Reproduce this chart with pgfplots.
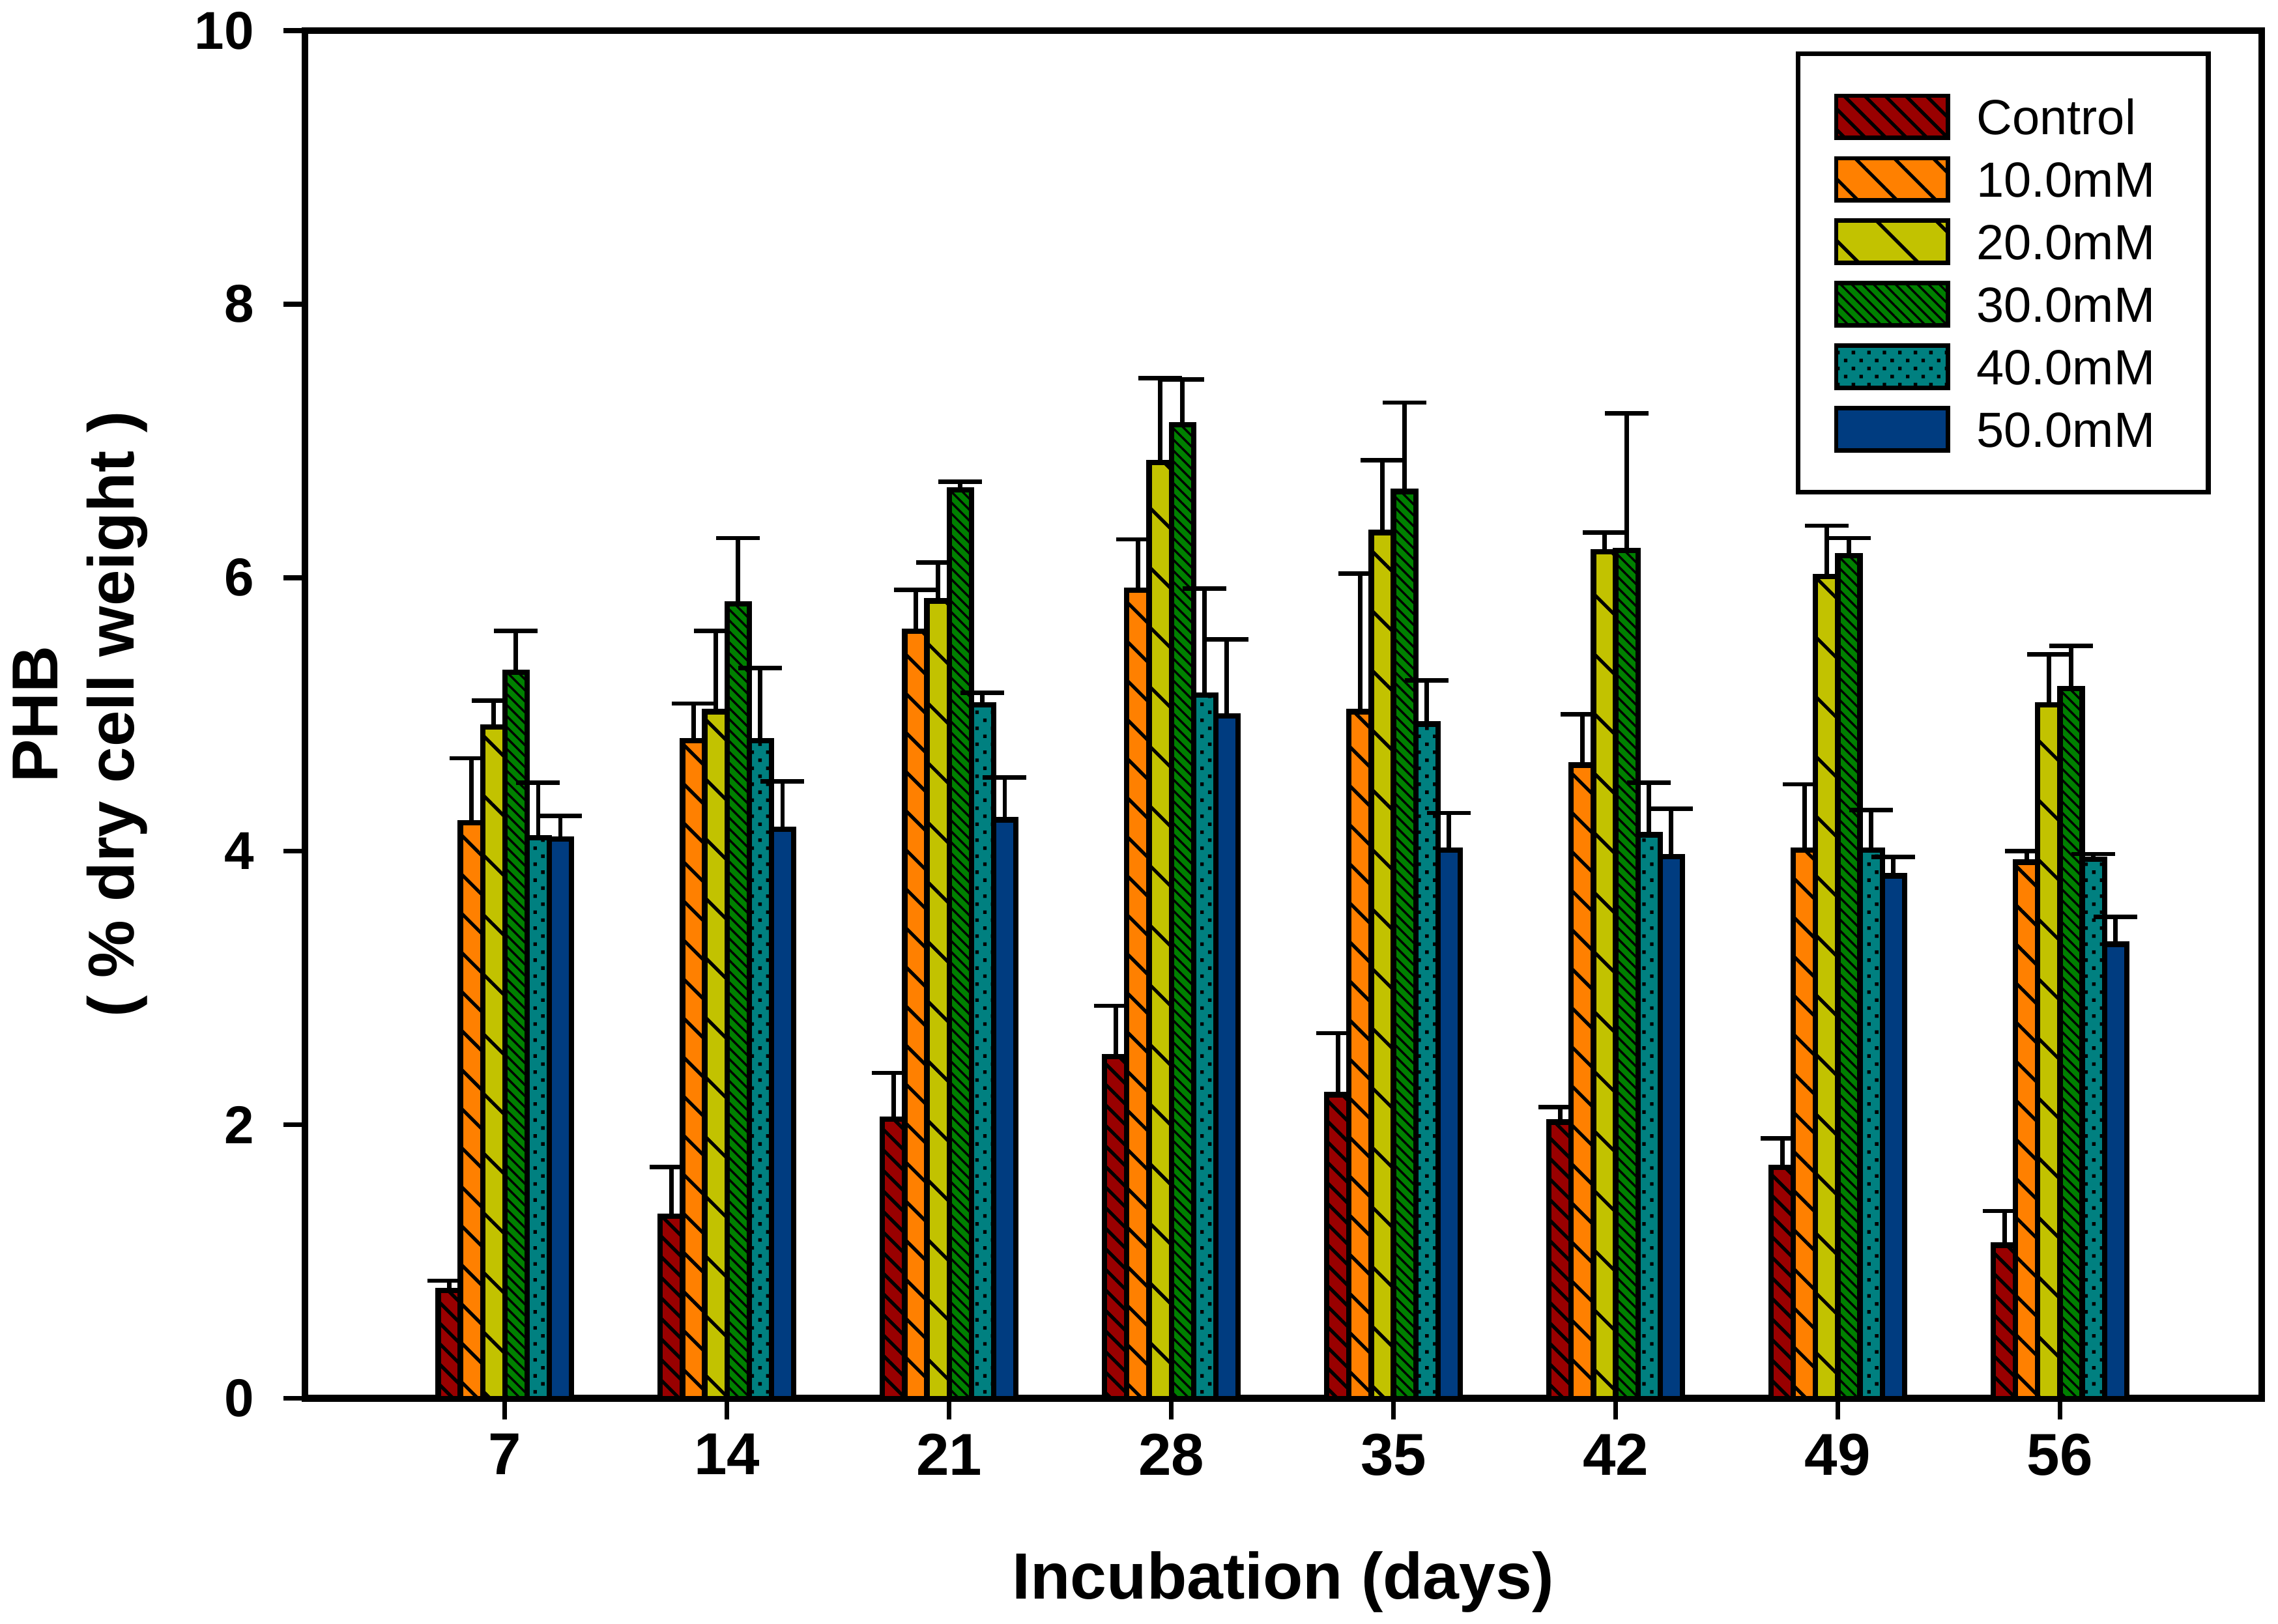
\documentclass[border=0pt]{standalone}
\usepackage{fontspec}
\setmainfont{Liberation Sans}
\usepackage{pgfplots}
\usepackage{pgfplotstable}
\pgfplotsset{compat=1.18}
\usetikzlibrary{patterns,patterns.meta,calc}

\definecolor{cctrl}{HTML}{990000}
\definecolor{cten}{HTML}{FF8000}
\definecolor{ctwenty}{HTML}{C2C200}
\definecolor{cthirty}{HTML}{008000}
\definecolor{cforty}{HTML}{008080}
\definecolor{cfifty}{HTML}{003C80}

% staggered square dots (40 mM)
\pgfdeclarepatternformonly{stagdots}{\pgfqpoint{-0.5pt}{-0.5pt}}{\pgfqpoint{2.1pt}{2.1pt}}{\pgfqpoint{3.2pt}{3.3pt}}{%
  \pgfpathrectangle{\pgfqpoint{-0.36pt}{-0.36pt}}{\pgfqpoint{0.72pt}{0.72pt}}%
  \pgfpathrectangle{\pgfqpoint{1.24pt}{1.29pt}}{\pgfqpoint{0.72pt}{0.72pt}}%
  \pgfusepath{fill}}

% x = day, y = PHB, e = upper error
\pgfplotstableread{
x y e
7 0.79 0.07
14 1.33 0.36
21 2.04 0.34
28 2.50 0.37
35 2.22 0.45
42 2.02 0.11
49 1.69 0.21
56 1.12 0.25
}\tctrl
\pgfplotstableread{
x y e
7 4.21 0.47
14 4.81 0.27
21 5.61 0.30
28 5.91 0.37
35 5.02 1.01
42 4.63 0.37
49 4.01 0.48
56 3.92 0.08
}\tten
\pgfplotstableread{
x y e
7 4.91 0.19
14 5.02 0.59
21 5.83 0.28
28 6.84 0.62
35 6.33 0.53
42 6.19 0.14
49 6.01 0.37
56 5.07 0.37
}\ttwenty
\pgfplotstableread{
x y e
7 5.31 0.30
14 5.81 0.48
21 6.64 0.06
28 7.12 0.33
35 6.63 0.65
42 6.20 1.00
49 6.16 0.13
56 5.19 0.31
}\tthirty
\pgfplotstableread{
x y e
7 4.10 0.40
14 4.81 0.53
21 5.07 0.09
28 5.14 0.78
35 4.93 0.32
42 4.12 0.38
49 4.01 0.29
56 3.94 0.04
}\tforty
\pgfplotstableread{
x y e
7 4.09 0.17
14 4.16 0.35
21 4.23 0.31
28 4.99 0.56
35 4.01 0.27
42 3.96 0.35
49 3.82 0.14
56 3.32 0.20
}\tfifty

\pgfplotsset{
  phbbar/.style={ybar, bar width=0.7, bar shift=0, draw=black, line width=1.1pt,
    legend image code/.code={\draw[##1, line width=0.9pt] (0pt,-4.35pt) rectangle (23.1pt,4.35pt);},
    error bars/y dir=plus, error bars/y explicit,
    error bars/error bar style={line width=0.9pt, black},
    error bars/error mark options={rotate=90, mark size=4.5pt, line width=0.9pt, black}},
}

\begin{document}
\begin{tikzpicture}
\begin{axis}[
    name=ax,
    scale only axis,
    width=403.7pt, height=282.3pt,
    xmin=0.7, xmax=62.35, ymin=0, ymax=10,
    xtick={7,14,21,28,35,42,49,56},
    ytick={0,2,4,6,8,10},
    minor tick num=0,
    tick align=outside,
    major tick length=4.4pt,
    xtick pos=bottom, ytick pos=left,
    every tick/.style={black, line width=1pt},
    axis line style={line width=1.4pt},
    /pgf/number format/assume math mode=true,
    xticklabel style={font=\fontsize{12.2}{12.2}\selectfont\bfseries, inner sep=0pt, yshift=-2.7pt},
    yticklabel style={font=\fontsize{11}{11}\selectfont\bfseries, inner sep=0pt, xshift=-5.9pt},
    xlabel={Incubation (days)},
    xlabel style={font=\fontsize{13.5}{13.5}\selectfont\bfseries, inner sep=0pt,
        at={(axis description cs:0.5,-0.14665)}, anchor=base},
    ylabel={PHB\\( \% dry cell weight )},
    ylabel style={font=\fontsize{13.4}{15.7}\selectfont\bfseries, align=center, inner sep=0pt,
        at={(axis description cs:-0.11481,0.5)}, anchor=center},
    legend cell align=left,
    legend style={at={(axis description cs:1,1)}, anchor=north east,
        xshift=-10.5pt, yshift=-4.3pt,
        draw=black, line width=1pt, fill=white,
        inner xsep=7.4pt, inner ysep=8.2pt, row sep=3.3pt,
        font=\fontsize{10.2}{10.2}\selectfont,
        nodes={inner sep=0pt, text width=40.4pt, align=left, text height=7.4pt, text depth=0pt},
        /tikz/every odd column/.append style={column sep=5.4pt}},
]
\addplot[phbbar, fill=cctrl,
    postaction={pattern={Lines[angle=-45,distance=3pt,line width=0.7pt]}}]
    table[x expr=\thisrow{x}-1.75, y=y, y error=e] {\tctrl};
\addlegendentry{Control}
\addplot[phbbar, fill=cten,
    postaction={pattern={Lines[angle=-45,distance=5.7pt,line width=0.7pt]}}]
    table[x expr=\thisrow{x}-1.05, y=y, y error=e] {\tten};
\addlegendentry{10.0mM}
\addplot[phbbar, fill=ctwenty,
    postaction={pattern={Lines[angle=-45,distance=8.7pt,line width=0.7pt]}}]
    table[x expr=\thisrow{x}-0.35, y=y, y error=e] {\ttwenty};
\addlegendentry{20.0mM}
\addplot[phbbar, fill=cthirty,
    postaction={pattern={Lines[angle=-45,distance=1.6pt,line width=0.45pt]}}]
    table[x expr=\thisrow{x}+0.35, y=y, y error=e] {\tthirty};
\addlegendentry{30.0mM}
\addplot[phbbar, fill=cforty,
    postaction={pattern=stagdots}]
    table[x expr=\thisrow{x}+1.05, y=y, y error=e] {\tforty};
\addlegendentry{40.0mM}
\addplot[phbbar, fill=cfifty]
    table[x expr=\thisrow{x}+1.75, y=y, y error=e] {\tfifty};
\addlegendentry{50.0mM}
\end{axis}
\pgfresetboundingbox
\useasboundingbox ($(ax.south west)+(-62.9pt,-46.5pt)$) rectangle ($(ax.north east)+(3.4pt,6.3pt)$);
\end{tikzpicture}
\end{document}
